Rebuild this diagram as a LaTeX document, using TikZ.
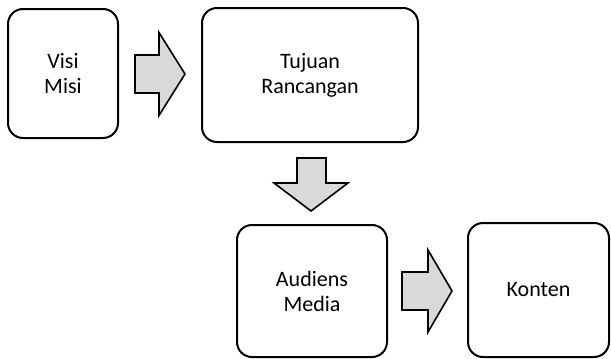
\documentclass[tikz,border=0pt]{standalone}
\usepackage{fontspec}
\setmainfont{Carlito}

\begin{document}
\begin{tikzpicture}[x=1pt, y=-1pt,
    kotak/.style={draw, line width=2pt, rounded corners=15pt, align=center,
        inner sep=0pt, font=\fontsize{22}{25}\selectfont},
    panah/.style={draw, line width=1.6pt, fill=gray!30, line join=miter}]
    \useasboundingbox (0,0) rectangle (611,359);
    % kotak-kotak
    \node[kotak, minimum width=110pt, minimum height=129pt] (visi) at (63,73.5) {Visi\\Misi};
    \node[kotak, minimum width=216pt, minimum height=134pt] (tujuan) at (310,75) {Tujuan\\Rancangan};
    \node[kotak, minimum width=150pt, minimum height=132pt] (audiens) at (312,291) {Audiens\\Media};
    \node[kotak, minimum width=141pt, minimum height=134pt] (konten) at (538.5,290) {Konten};
    % panah blok
    \draw[panah] (135,55) -- (159,55) -- (159,32.5) -- (185,74) -- (159,115.5) -- (159,93) -- (135,93) -- cycle;
    \draw[panah] (297,158) -- (326,158) -- (326,183) -- (348,183) -- (311,211) -- (274,183) -- (297,183) -- cycle;
    \draw[panah] (402,272) -- (428,272) -- (428,250) -- (452,291) -- (428,332) -- (428,310) -- (402,310) -- cycle;
\end{tikzpicture}
\end{document}
